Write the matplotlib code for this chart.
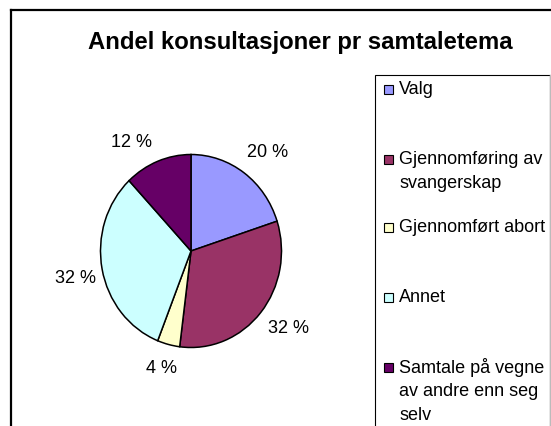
import matplotlib
matplotlib.use("Agg")
import matplotlib.pyplot as plt
from matplotlib.patches import Rectangle
from matplotlib.lines import Line2D
import numpy as np

categories = ["Valg", "Gjennomføring av\nsvangerskap", "Gjennomført abort", "Annet",
              "Samtale på vegne\nav andre enn seg\nselv"]
values = [20, 32, 4, 32, 12]
pct_labels = ["20 %", "32 %", "4 %", "32 %", "12 %"]
colors = ["#9999FF", "#993366", "#FFFFCC", "#CCFFFF", "#660066"]
title = "Andel konsultasjoner pr samtaletema"

W, H = 551, 427
plt.rcParams['font.family'] = ['Liberation Sans', 'DejaVu Sans']
fig = plt.figure(figsize=(W / 100, H / 100), dpi=100)
fig.patch.set_facecolor("white")

def fx(px):
    return px / W

def fy(py):
    return 1 - py / H

# pie axes: centre (191, 252), rx 90.5, ry 96.5
cx, cy, rx, ry = 191, 252, 90.5, 96.5
k = 1.5
ax = fig.add_axes([fx(cx - rx * k), fy(cy + ry * k), 2 * rx * k / W, 2 * ry * k / H])
wedges, texts = ax.pie(values, colors=colors, startangle=90, counterclock=False,
                       wedgeprops=dict(edgecolor="black", linewidth=1.1))
mids = []
cum = 0
for v in values:
    mids.append(90 - (cum + v / 2) / sum(values) * 360)
    cum += v
# label placement tweaks (angle offset in degrees, radial distance)
offsets = [-3.4, 3.4, -0.9, 1.5, 8.7]
dists = [1.34, 1.34, 1.255, 1.31, 1.31]
for lab, a, off, d in zip(pct_labels, mids, offsets, dists):
    r = np.deg2rad(a + off)
    ax.text(d * np.cos(r), d * np.sin(r), lab, ha="center", va="center", fontsize=13)
ax.set_aspect("auto")
ax.set_xlim(-k, k)
ax.set_ylim(-k, k)
ax.axis("off")

# title
fig.text(fx(300), fy(43), title, ha="center", va="center", fontsize=17.2, fontweight="bold")

# chart border (left and top)
fig.add_artist(Line2D([fx(11), fx(11)], [fy(11), fy(440)], color="black", lw=1.6,
                      transform=fig.transFigure))
fig.add_artist(Line2D([fx(11), fx(560)], [fy(11), fy(11)], color="black", lw=1.6,
                      transform=fig.transFigure))

# legend box
fig.add_artist(Rectangle((fx(374.5), fy(440)), fx(550) - fx(374.5), fy(76) - fy(440),
                         transform=fig.transFigure, facecolor="white",
                         edgecolor="black", lw=0.8))
fig.add_artist(Line2D([fx(550), fx(550)], [fy(76), fy(440)], color="#BBBBBB", lw=1.0,
                      transform=fig.transFigure))

entry_y = [90, 160, 228, 298, 368]
line_step = 24
sq = 9
for lab, col, y0 in zip(categories, colors, entry_y):
    fig.add_artist(Rectangle((fx(388 - sq / 2), fy(y0 + sq / 2)), sq / W, sq / H,
                             transform=fig.transFigure, facecolor=col,
                             edgecolor="black", lw=0.8))
    for i, line in enumerate(lab.split("\n")):
        fig.text(fx(399), fy(y0 + i * line_step), line, ha="left", va="center",
                 fontsize=13)

fig.savefig("out.png", dpi=100, facecolor="white")
